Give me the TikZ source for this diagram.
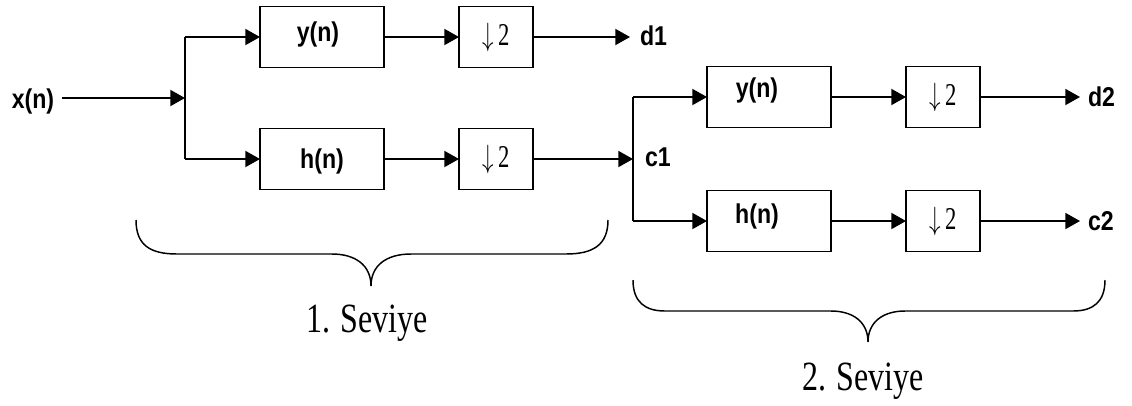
\documentclass[tikz,border=0pt]{standalone}
\usepackage{fontspec}
\setmainfont{Liberation Serif}
\newfontfamily\lblfont{Liberation Sans}
\usetikzlibrary{arrows.meta}
\tikzset{
  box/.style={draw=black, line width=1pt, inner sep=0pt, outer sep=0pt},
  fbox/.style={box, minimum width=93pt, minimum height=46pt},
  dbox/.style={box, minimum width=55.5pt, minimum height=46pt},
  lbl/.style={font=\lblfont\bfseries\fontsize{17pt}{19pt}\selectfont, inner sep=0pt, outer sep=0pt},
  arr/.style={line width=1.4pt, -{Triangle[length=11pt,width=12pt]}},
  wire/.style={line width=1.4pt},
  brace/.style={line width=1.1pt},
  lvl/.style={font=\fontsize{24pt}{26pt}\selectfont, inner sep=0pt, anchor=base}
}
\newcommand{\dn}{\scalebox{1}[1.4]{\fontsize{17pt}{19pt}\selectfont$\downarrow$\hspace{3pt}2}}
\newcommand{\tl}[1]{\scalebox{1.02}[1.2]{#1}}
\begin{document}
\begin{tikzpicture}[x=0.75pt,y=-0.75pt]
\useasboundingbox (0,0) rectangle (1132,405);
% level 1
\node[lbl] (xn) at (33,101) {\tl{x(n)}};
\coordinate (j1) at (185,98);
\coordinate (j1t) at (185,37);
\coordinate (j1b) at (185,159);
\node[fbox] (Y1) at (322,37) {};
\node[fbox] (H1) at (322,159) {};
\node[lbl] (Y1t) at (318,34) {\tl{y(n)}};
\node[lbl] (H1t) at (322,161) {\tl{h(n)}};
\node[dbox] (D1a) at (496,37) {\dn};
\node[dbox] (D1b) at (496,159) {\dn};
\node[lbl, anchor=west] (d1) at (640,36) {\tl{d1}};
\node[lbl, anchor=west] (c1) at (645,157) {\tl{c1}};
\draw[arr, shorten <=6pt] (xn.east |- j1) -- (j1);
\draw[wire] (j1t) -- (j1b);
\draw[arr] (j1t) -- (Y1.west);
\draw[arr] (j1b) -- (H1.west);
\draw[arr] (Y1.east) -- (D1a.west);
\draw[arr] (H1.east) -- (D1b.west);
\draw[arr, shorten >=7.5pt] (D1a.east) -- (d1.west |- D1a.east);
\coordinate (j2) at (633,159);
\draw[arr] (D1b.east) -- (j2);
% level 2
\coordinate (j2t) at (633,97);
\coordinate (j2b) at (633,221);
\node[fbox] (Y2) at (769,97) {};
\node[fbox] (H2) at (769,221) {};
\node[lbl] (Y2t) at (757,90) {\tl{y(n)}};
\node[lbl] (H2t) at (757,216) {\tl{h(n)}};
\node[dbox] (D2a) at (943,97) {\dn};
\node[dbox] (D2b) at (943,221) {\dn};
\node[lbl, anchor=west] (d2) at (1088,97) {\tl{d2}};
\node[lbl, anchor=west] (c2) at (1088,221) {\tl{c2}};
\draw[wire] (j2t) -- (j2b);
\draw[arr] (j2t) -- (Y2.west);
\draw[arr] (j2b) -- (H2.west);
\draw[arr] (Y2.east) -- (D2a.west);
\draw[arr] (H2.east) -- (D2b.west);
\draw[arr, shorten >=6pt] (D2a.east) -- (d2.west |- D2a.east);
\draw[arr, shorten >=6pt] (D2b.east) -- (c2.west |- D2b.east);
% braces
\draw[brace] (136,220) .. controls (136,245) and (150,254) .. (177,254)
  -- (332,254) .. controls (355,254) and (371,265) .. (371,286)
  .. controls (371,265) and (387,254) .. (411,254)
  -- (566,254) .. controls (593,254) and (608,245) .. (608,220);
\draw[brace] (633,280) .. controls (633,302) and (645,311) .. (665,311)
  -- (831,311) .. controls (853,311) and (868,322) .. (868,342)
  .. controls (868,322) and (883,311) .. (905,311)
  -- (1073,311) .. controls (1093,311) and (1105,302) .. (1105,280);
\node[lvl] (s1) at (367,332) {\scalebox{1}[1.3]{1. Seviye}};
\node[lvl] (s2) at (863,390) {\scalebox{1}[1.3]{2. Seviye}};
\end{tikzpicture}
\end{document}
